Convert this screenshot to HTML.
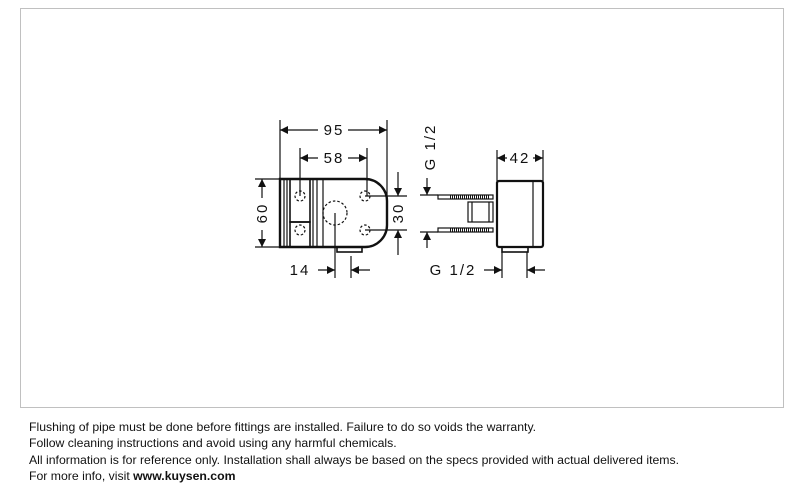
<!DOCTYPE html>
<html><head><meta charset="utf-8"><style>
html,body{margin:0;padding:0;background:#fff;width:793px;height:493px;overflow:hidden}
.t{position:absolute;left:29px;font-family:"Liberation Sans",sans-serif;font-size:12.25px;color:#111;white-space:nowrap}
</style></head><body>
<svg width="793" height="493" style="position:absolute;left:0;top:0">
<rect x="20.5" y="8.5" width="763" height="399" fill="none" stroke="#c0c0c0" stroke-width="1"/>
<defs>
<marker id="a" viewBox="0 0 10 10" refX="10" refY="5" markerWidth="10" markerHeight="8" markerUnits="userSpaceOnUse" orient="auto-start-reverse"><path d="M0,0L10,5L0,10z" fill="#111"/></marker>
</defs>
<g stroke="#111" fill="none" stroke-width="1.2">
<path d="M280,179H365A22,22 0 0 1 387,201V225A22,22 0 0 1 365,247H280Z" stroke-width="2.4"/>
<line x1="284" y1="179" x2="284" y2="247"/><line x1="287" y1="179" x2="287" y2="247"/>
<rect x="290" y="179" width="20" height="43" stroke-width="1.6"/><rect x="290" y="222" width="20" height="25" stroke-width="1.6"/>
<line x1="313" y1="179" x2="313" y2="247"/><line x1="317" y1="179" x2="317" y2="247"/><line x1="323" y1="179" x2="323" y2="247"/>
<rect x="337" y="247" width="25" height="5" stroke-width="1.6"/>
<g stroke-dasharray="2.5,2"><circle cx="300" cy="196" r="5"/><circle cx="300" cy="230" r="5"/><circle cx="365" cy="196" r="5"/><circle cx="365" cy="230" r="5"/><circle cx="335" cy="213" r="12"/></g>
<line x1="280" y1="120" x2="280" y2="179"/><line x1="387" y1="120" x2="387" y2="200"/>
<line x1="300" y1="148" x2="300" y2="196"/><line x1="367" y1="148" x2="367" y2="196"/>
<line x1="255" y1="179" x2="280" y2="179"/><line x1="255" y1="247" x2="280" y2="247"/>
<line x1="365" y1="196" x2="407" y2="196"/><line x1="365" y1="230" x2="407" y2="230"/>
<line x1="335" y1="213" x2="335" y2="278"/><line x1="351" y1="256" x2="351" y2="278"/>
<line x1="280" y1="130" x2="318" y2="130" marker-start="url(#a)"/><line x1="348" y1="130" x2="387" y2="130" marker-end="url(#a)"/>
<line x1="300" y1="158" x2="318" y2="158" marker-start="url(#a)"/><line x1="348" y1="158" x2="367" y2="158" marker-end="url(#a)"/>
<line x1="262" y1="179" x2="262" y2="198" marker-start="url(#a)"/><line x1="262" y1="230" x2="262" y2="247" marker-end="url(#a)"/>
<line x1="398" y1="172" x2="398" y2="196" marker-end="url(#a)"/><line x1="398" y1="255" x2="398" y2="230" marker-end="url(#a)"/>
<line x1="318" y1="270" x2="335" y2="270" marker-end="url(#a)"/><line x1="370" y1="270" x2="351" y2="270" marker-end="url(#a)"/>
<rect x="497" y="181" width="46" height="66" rx="2" stroke-width="2.2"/>
<line x1="533" y1="181" x2="533" y2="247"/>
<rect x="502" y="247" width="26" height="5" stroke-width="1.6"/>
<rect x="468" y="202" width="25" height="20"/>
<line x1="472" y1="202" x2="472" y2="222"/><line x1="489" y1="202" x2="489" y2="222"/>
<rect x="438" y="195" width="55" height="4"/><rect x="438" y="228" width="55" height="4"/>
<g stroke-dasharray="1,1"><line x1="450" y1="197" x2="490" y2="197" stroke-width="3"/><line x1="450" y1="230" x2="490" y2="230" stroke-width="3"/></g>
<line x1="497" y1="150" x2="497" y2="181"/><line x1="543" y1="150" x2="543" y2="181"/>
<line x1="507" y1="158" x2="497" y2="158" marker-end="url(#a)"/><line x1="533" y1="158" x2="543" y2="158" marker-end="url(#a)"/>
<line x1="420" y1="195" x2="438" y2="195"/><line x1="420" y1="232" x2="438" y2="232"/>
<line x1="427" y1="178" x2="427" y2="195" marker-end="url(#a)"/><line x1="427" y1="248" x2="427" y2="232" marker-end="url(#a)"/>
<line x1="502" y1="252" x2="502" y2="278"/><line x1="527" y1="252" x2="527" y2="278"/>
<line x1="484" y1="270" x2="502" y2="270" marker-end="url(#a)"/><line x1="545" y1="270" x2="527" y2="270" marker-end="url(#a)"/>
</g>
<g font-family="Liberation Sans,sans-serif" font-size="15" fill="#111" letter-spacing="2">
<text x="334" y="135" text-anchor="middle">95</text>
<text x="334" y="163" text-anchor="middle">58</text>
<text x="300" y="275" text-anchor="middle">14</text>
<text x="453" y="275" text-anchor="middle">G 1/2</text>
<text x="520" y="163" text-anchor="middle">42</text>
<text transform="translate(267,213) rotate(-90)" text-anchor="middle">60</text>
<text transform="translate(403,213) rotate(-90)" text-anchor="middle">30</text>
<text transform="translate(435,147) rotate(-90)" text-anchor="middle">G 1/2</text>
</g>
</svg>
<div class="t" style="top:420px">Flushing of pipe must be done before fittings are installed. Failure to do so voids the warranty.</div>
<div class="t" style="top:436px">Follow cleaning instructions and avoid using any harmful chemicals.</div>
<div class="t" style="top:453px">All information is for reference only. Installation shall always be based on the specs provided with actual delivered items.</div>
<div class="t" style="top:469px">For more info, visit <b>www.kuysen.com</b></div>
</body></html>
